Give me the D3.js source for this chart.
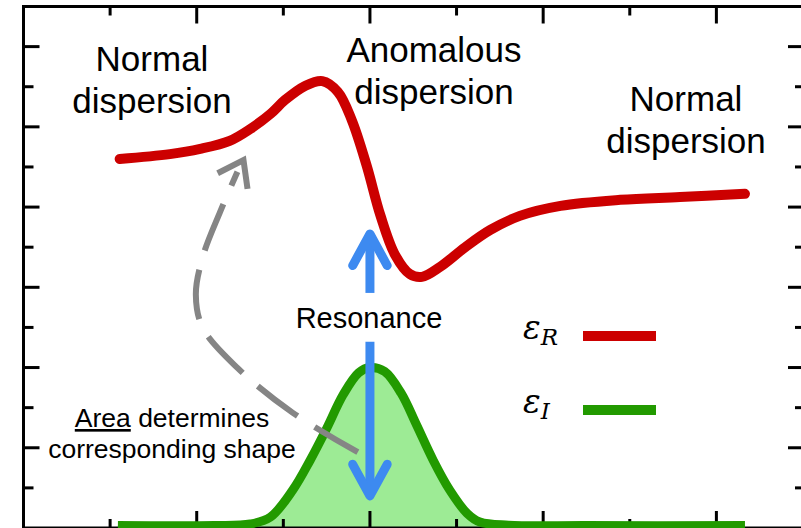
<!DOCTYPE html>
<html>
<head>
<meta charset="utf-8">
<script src="https://cdn.jsdelivr.net/npm/d3@7"></script>
<style>
  body { margin: 0; background: #fff; }
  text { font-family: "Liberation Sans", Arial, sans-serif; fill: #000; }
</style>
</head>
<body>
<svg id="chart" width="801" height="528"></svg>
<script>
var realX = [1.11, 1.69, 2.04, 2.38, 2.62, 2.85, 3.02, 3.25, 3.45, 3.63, 3.79, 3.96, 4.12,
             4.29, 4.46, 4.60, 4.81, 5.10, 5.39, 5.73, 6.20, 6.89, 7.58, 8.33];
var realY = [9.20, 9.32, 9.45, 9.65, 9.95, 10.32, 10.67, 11.02, 11.14, 10.87, 10.17, 9.05, 7.80,
             6.81, 6.33, 6.26, 6.51, 7.00, 7.43, 7.78, 8.03, 8.18, 8.25, 8.33];

/// eps_I (imaginary part)
var imagX = [1.09, 2.20, 2.62, 2.85, 3.11, 3.31, 3.50, 3.69, 3.87, 4.00, 4.17, 4.36, 4.54, 4.73,
             4.92, 5.12, 5.27, 5.60, 6.50, 8.33];
var imagY = [0.06, 0.06, 0.10, 0.27, 0.95, 1.69, 2.48, 3.32, 3.87, 4.00, 3.90, 3.36, 2.56, 1.69,
             0.95, 0.37, 0.15, 0.07, 0.06, 0.06];

/// resonance arrows (x, y from -> y to)
var resonanceX = 4.0;
var upArrow = [5.86, 7.33];
var downArrow = [4.64, 0.80];

/// dashed "area determines shape" path
var dashX = [3.86, 3.11, 2.47, 2.07, 1.99, 2.07, 2.27, 2.47];
var dashY = [1.89, 2.87, 3.99, 4.99, 5.81, 6.76, 7.88, 8.88];
var dashTip = [2.54, 9.17];

/// labels
var legendLabels = [{sym: "ε", sub: "R", color: "#cc0000"},
                    {sym: "ε", sub: "I", color: "#229a00"}];

var svg = d3.select("#chart");

/// scales, frame is 9 x 13 units
var x = d3.scaleLinear().domain([0, 9]).range([23.5, 803]);
var y = d3.scaleLinear().domain([0, 13]).range([528, 6.5]);

var RED = "#cc0000", GREEN = "#229a00", FILL = "#9deb95",
    BLUE = "#3d8af0", GREY = "#858585";

var imagData = imagX.map((d, i) => ({x: d, y: imagY[i]}));
var realData = realX.map((d, i) => ({x: d, y: realY[i]}));
var smooth = d3.curveCatmullRom.alpha(0.5);

// filled area under eps_I
svg.append("path")
   .datum(imagData)
   .attr("d", d3.area().x(d => x(d.x)).y0(y(0)).y1(d => y(d.y)).curve(smooth))
   .style("fill", FILL);

// frame + ticks
var frame = svg.append("g").attr("class", "frame");

frame.append("rect")
     .attr("x", x(0)).attr("y", y(13))
     .attr("width", x(9) - x(0)).attr("height", y(0) - y(13))
     .style("fill", "none").style("stroke", "#000").style("stroke-width", 3);

var xTicks = d3.range(1, 9), yTicks = d3.range(1, 13);
var tickLen = v => (v % 2 === 0 ? 17 : 9);

frame.selectAll(".xb").data(xTicks).enter().append("line")
     .attr("x1", d => x(d)).attr("x2", d => x(d))
     .attr("y1", y(0)).attr("y2", d => y(0) - tickLen(d));
frame.selectAll(".xt").data(xTicks).enter().append("line")
     .attr("x1", d => x(d)).attr("x2", d => x(d))
     .attr("y1", y(13)).attr("y2", d => y(13) + tickLen(d));
frame.selectAll(".yl").data(yTicks).enter().append("line")
     .attr("y1", d => y(d)).attr("y2", d => y(d))
     .attr("x1", x(0)).attr("x2", d => x(0) + (d % 2 === 0 ? 16 : 10));
frame.selectAll(".yr").data(yTicks).enter().append("line")
     .attr("y1", d => y(d)).attr("y2", d => y(d))
     .attr("x1", x(9)).attr("x2", d => x(9) - (d % 2 === 0 ? 15 : 8));
frame.selectAll("line").style("stroke", "#000").style("stroke-width", 3);

// curves
var line = d3.line().x(d => x(d.x)).y(d => y(d.y)).curve(smooth);

svg.append("path")
   .datum(imagData)
   .attr("d", line)
   .style("fill", "none").style("stroke", GREEN).style("stroke-width", 9)
   .style("stroke-linejoin", "round");

svg.append("path")
   .datum(realData)
   .attr("d", line)
   .style("fill", "none").style("stroke", RED).style("stroke-width", 10)
   .style("stroke-linecap", "round").style("stroke-linejoin", "round");

// arrow helper, chevron at tip pointing along angle
function chevron(g, tx, ty, ang, len, spread, color, width, cap) {
  var back = ang + Math.PI;
  var p = [[tx + len*Math.cos(back - spread), ty + len*Math.sin(back - spread)],
           [tx, ty],
           [tx + len*Math.cos(back + spread), ty + len*Math.sin(back + spread)]];
  g.append("path")
   .attr("d", d3.line()(p))
   .style("fill", "none").style("stroke", color).style("stroke-width", width)
   .style("stroke-linecap", cap).style("stroke-linejoin", cap === "round" ? "round" : "miter");
}

// resonance arrows
var arrows = svg.append("g");
[upArrow, downArrow].forEach(function(a) {
  arrows.append("line")
        .attr("x1", x(resonanceX)).attr("x2", x(resonanceX))
        .attr("y1", y(a[0])).attr("y2", y(a[1]))
        .style("stroke", BLUE).style("stroke-width", 9);
  var ang = a[1] > a[0] ? -Math.PI/2 : Math.PI/2;
  chevron(arrows, x(resonanceX), y(a[1]), ang, 36, 0.5, BLUE, 9, "round");
});

// dashed grey arrow
var dashData = dashX.map((d, i) => [x(d), y(dashY[i])]);
svg.append("path")
   .attr("d", d3.line().curve(smooth)(dashData))
   .style("fill", "none").style("stroke", GREY).style("stroke-width", 6)
   .style("stroke-dasharray", "50,20");
var last = dashData[dashData.length - 1];
var tip = [x(dashTip[0]), y(dashTip[1])];
chevron(svg, tip[0], tip[1], Math.atan2(tip[1] - last[1], tip[0] - last[0]), 29, 0.62, GREY, 6, "butt");

// text labels
function twoLines(cx, y1, l1, l2, size) {
  var t = svg.append("text").attr("text-anchor", "middle").style("font-size", size + "px");
  t.append("tspan").attr("x", cx).attr("y", y1).text(l1);
  t.append("tspan").attr("x", cx).attr("y", y1 + size * 1.2).text(l2);
  return t;
}
twoLines(152, 71, "Normal", "dispersion", 35);
twoLines(434, 62, "Anomalous", "dispersion", 35);
twoLines(686, 111, "Normal", "dispersion", 35);

svg.append("text").attr("x", 369).attr("y", 328)
   .attr("text-anchor", "middle").style("font-size", "29px").text("Resonance");

var area = svg.append("text").attr("text-anchor", "middle").style("font-size", "26.5px");
var l1 = area.append("tspan").attr("x", 172).attr("y", 427);
l1.append("tspan").style("text-decoration", "underline").text("Area");
l1.append("tspan").text(" determines");
area.append("tspan").attr("x", 172).attr("y", 458).text("corresponding shape");

// legend
var legend = svg.append("g");
legendLabels.forEach(function(d, i) {
  var ly = 339 + i * 74;
  var t = legend.append("text").attr("x", 523).attr("y", ly)
                .style("font-family", "'DejaVu Serif', serif").style("font-style", "italic")
                .style("font-size", "33px");
  t.append("tspan").text(d.sym);
  t.append("tspan").attr("dy", 6).style("font-size", "23px").text(d.sub);
  legend.append("line")
        .attr("x1", 583).attr("x2", 656)
        .attr("y1", ly - 3).attr("y2", ly - 3)
        .style("stroke", d.color).style("stroke-width", 10);
});
</script>
</body>
</html>
